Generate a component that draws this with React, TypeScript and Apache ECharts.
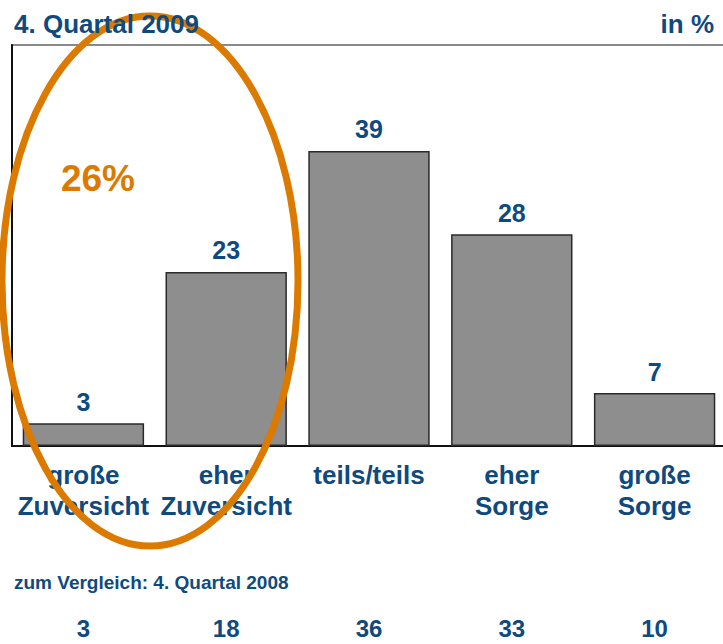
import React, { useEffect, useRef } from "react";
import * as echarts from "echarts";

const categories = ["große\nZuversicht", "eher\nZuversicht", "teils/teils", "eher\nSorge", "große\nSorge"];
const values2009 = [3, 23, 39, 28, 7];
const values2008 = [3, 18, 36, 33, 10];
const titleText = "4. Quartal 2009";
const unitText = "in %";
const compareText = "zum Vergleich: 4. Quartal 2008";
const highlightText = "26%";

const BLUE = "#0f4a7e";
const ORANGE = "#dc7a00";
const FONT = "'Liberation Sans', Arial, sans-serif";

export default function App() {
  const ref = useRef<HTMLDivElement>(null);
  useEffect(() => {
    document.body.style.margin = "0";
    if (!ref.current) return;
    const chart = echarts.init(ref.current, null, { renderer: "svg" });
    chart.setOption({
      animation: false,
      backgroundColor: "#ffffff",
      textStyle: { fontFamily: FONT },
      title: [
        { text: titleText, left: 9, top: 6, z: 20, textStyle: { color: BLUE, fontSize: 26, fontWeight: "bold", fontFamily: FONT } },
        { text: unitText, right: 4, top: 6, z: 20, textStyle: { color: BLUE, fontSize: 26, fontWeight: "bold", fontFamily: FONT } },
        { text: compareText, left: 9, top: 568, textStyle: { color: BLUE, fontSize: 19, fontWeight: "bold", fontFamily: FONT } },
      ],
      grid: {
        left: 12, top: 45, width: 714, height: 401,
        outerBoundsMode: "none",
        containLabel: false,
        show: true, borderColor: "#8a8a8a", borderWidth: 2, backgroundColor: "transparent",
      },
      xAxis: [
        {
          type: "category",
          data: categories,
          axisLine: { show: true, lineStyle: { color: "#111", width: 2 } },
          axisTick: { show: false },
          axisLabel: { color: BLUE, fontSize: 26, fontWeight: "bold", fontFamily: FONT, lineHeight: 31, margin: 13, interval: 0 },
        },
        {
          type: "category",
          position: "bottom",
          offset: 170,
          data: values2008.map(String),
          axisLine: { show: false },
          axisTick: { show: false },
          axisLabel: { color: BLUE, fontSize: 24, fontWeight: "bold", fontFamily: FONT, interval: 0, margin: 0 },
        },
      ],
      yAxis: {
        type: "value",
        min: 0,
        max: 53,
        axisLine: { show: true, lineStyle: { color: "#111", width: 2 } },
        axisTick: { show: false },
        axisLabel: { show: false },
        splitLine: { show: false },
      },
      series: [
        {
          type: "bar",
          data: values2009,
          xAxisIndex: 0,
          barCategoryGap: "15%",
          itemStyle: { color: "#8e8e8e", borderColor: "#2a2a2a", borderWidth: 1.5 },
          label: { show: true, position: "top", distance: 9, color: BLUE, fontSize: 25, fontWeight: "bold", fontFamily: FONT },
        },
      ],
      graphic: [
        {
          type: "ellipse",
          z: 10,
          shape: { cx: 150, cy: 281, rx: 148, ry: 265 },
          style: { fill: "none", stroke: ORANGE, lineWidth: 7 },
        },
        {
          type: "text",
          z: 10,
          x: 98,
          y: 178,
          style: { text: highlightText, fill: ORANGE, font: `bold 37px ${FONT}`, align: "center", verticalAlign: "middle" },
        },
      ],
    });
    return () => chart.dispose();
  }, []);
  return <div ref={ref} style={{ width: 723, height: 644 }} />;
}
